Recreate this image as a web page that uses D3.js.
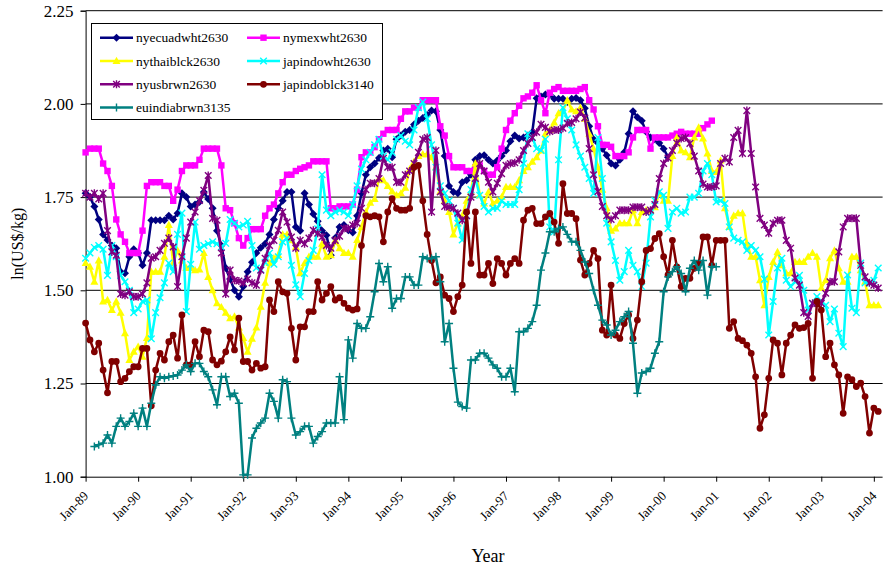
<!DOCTYPE html>
<html>
<head>
<meta charset="utf-8">
<script src="https://cdn.jsdelivr.net/npm/d3@7"></script>
<style>
body { margin: 0; background: #fff; }
text { font-family: "Liberation Serif", "DejaVu Serif", serif; fill: #000; }
</style>
</head>
<body>
<svg width="883" height="571"></svg>
<script>
// Tick labels and y ticks
var yearLabels = ['Jan-89','Jan-90','Jan-91','Jan-92','Jan-93','Jan-94','Jan-95','Jan-96',
                  'Jan-97','Jan-98','Jan-99','Jan-00','Jan-01','Jan-02','Jan-03','Jan-04'];
var yTicks = [1.00, 1.25, 1.50, 1.75, 2.00, 2.25];

// Monthly values from Jan-89, one row per year
var nyecuadwht2630 = [
  1.76,1.75,1.725,1.69,1.65,1.635,1.62,1.613,1.55,1.546,1.59,1.61,
  1.60,1.567,1.60,1.688,1.688,1.688,1.688,1.70,1.69,1.707,1.76,1.75,
  1.725,1.73,1.737,1.764,1.745,1.72,1.66,1.62,1.56,1.53,1.50,1.483,
  1.51,1.55,1.575,1.60,1.614,1.625,1.65,1.69,1.72,1.74,1.764,1.764,
  1.67,1.66,1.76,1.73,1.705,1.685,1.66,1.648,1.594,1.64,1.67,1.675,
  1.661,1.655,1.70,1.76,1.81,1.83,1.84,1.855,1.875,1.88,1.857,1.905,
  1.915,1.925,1.93,1.945,1.955,1.962,1.97,1.982,1.98,1.93,1.86,1.78,
  1.764,1.76,1.79,1.795,1.81,1.85,1.86,1.862,1.85,1.84,1.848,1.86,
  1.875,1.90,1.915,1.907,1.91,1.915,1.924,2.015,2.02,2.025,2.025,2.014,
  2.014,2.014,2.005,2.014,2.016,2.01,1.988,1.94,1.905,1.895,1.88,1.862,
  1.84,1.835,1.85,1.87,1.92,1.98,1.964,1.955,1.925,1.91,1.905,1.895,
  1.88,1.857
];
var nymexwht2630 = [
  1.87,1.88,1.88,1.88,1.84,1.82,1.78,1.69,1.65,1.63,1.60,1.60,
  1.60,1.66,1.78,1.79,1.79,1.79,1.78,1.78,1.74,1.77,1.82,1.835,
  1.835,1.835,1.85,1.88,1.88,1.88,1.88,1.835,1.72,1.715,1.68,1.64,
  1.62,1.64,1.664,1.664,1.664,1.70,1.72,1.73,1.76,1.79,1.81,1.81,
  1.82,1.826,1.83,1.835,1.846,1.846,1.846,1.846,1.72,1.72,1.725,1.725,
  1.725,1.73,1.77,1.857,1.87,1.87,1.884,1.905,1.92,1.93,1.93,1.93,
  1.96,1.98,1.98,1.99,1.99,2.01,2.01,2.01,2.01,1.94,1.915,1.86,
  1.83,1.83,1.83,1.82,1.82,1.83,1.835,1.82,1.81,1.81,1.83,1.88,
  1.93,1.955,1.975,1.995,2.015,2.02,2.03,2.05,2.01,1.975,2.03,2.04,
  2.045,2.035,2.035,2.035,2.035,2.04,2.045,2.01,1.985,1.94,1.89,1.89,
  1.885,1.86,1.86,1.86,1.87,1.91,1.93,1.93,1.93,1.88,1.91,1.91,
  1.91,1.91,1.915,1.92,1.925,1.92,1.92,1.92,1.92,1.935,1.945,1.955
];
var nythaiblck2630 = [
  1.573,1.563,1.523,1.58,1.47,1.474,1.447,1.47,1.44,1.385,1.313,1.335,
  1.349,1.322,1.372,1.55,1.55,1.55,1.59,1.675,1.573,1.607,1.58,1.56,
  1.56,1.554,1.556,1.60,1.536,1.50,1.465,1.455,1.44,1.425,1.43,1.40,
  1.372,1.335,1.37,1.40,1.456,1.52,1.573,1.586,1.595,1.65,1.65,1.634,
  1.616,1.546,1.573,1.59,1.59,1.59,1.625,1.59,1.594,1.634,1.613,1.60,
  1.60,1.59,1.635,1.67,1.71,1.735,1.745,1.80,1.795,1.78,1.765,1.755,
  1.76,1.775,1.825,1.845,1.86,1.865,1.865,1.857,1.83,1.765,1.74,1.71,
  1.65,1.68,1.70,1.74,1.764,1.84,1.755,1.733,1.764,1.733,1.74,1.75,
  1.777,1.777,1.777,1.795,1.82,1.83,1.845,1.857,1.875,1.92,1.93,1.95,
  1.975,1.98,2.01,1.985,1.98,1.99,1.96,1.92,1.88,1.83,1.77,1.72,
  1.66,1.666,1.68,1.68,1.68,1.715,1.68,1.71,1.715,1.715,1.723,1.76,
  1.74,1.74,1.86,1.91,1.875,1.87,1.857,1.91,1.937,1.907,1.867,1.82,
  1.817,1.848,1.72,1.67,1.70,1.707,1.707,1.626,1.59,1.59,1.527,1.46,
  1.536,1.576,1.603,1.567,1.546,1.546,1.576,1.576,1.576,1.59,1.60,1.59,
  1.506,1.527,1.586,1.607,1.559,1.523,1.523,1.59,1.59,1.554,1.523,1.46,
  1.46,1.46
];
var japindowht2630 = [
  1.586,1.60,1.615,1.62,1.61,1.54,1.62,1.59,1.54,1.523,1.50,1.44,
  1.45,1.47,1.474,1.37,1.44,1.48,1.52,1.573,1.55,1.65,1.707,1.443,
  1.57,1.683,1.61,1.62,1.625,1.63,1.625,1.616,1.626,1.69,1.68,1.67,
  1.675,1.685,1.62,1.56,1.555,1.575,1.60,1.57,1.59,1.63,1.64,1.567,
  1.515,1.483,1.545,1.58,1.607,1.665,1.81,1.715,1.70,1.71,1.715,1.71,
  1.70,1.73,1.78,1.825,1.85,1.87,1.89,1.905,1.86,1.85,1.87,1.905,
  1.915,1.90,1.89,1.93,1.99,2.005,1.96,1.89,1.83,1.78,1.76,1.74,
  1.72,1.68,1.635,1.70,1.77,1.80,1.755,1.725,1.71,1.72,1.72,1.74,
  1.73,1.73,1.73,1.77,1.84,1.92,1.91,1.88,1.875,1.905,1.67,1.657,
  1.85,1.99,1.96,1.93,1.89,1.86,1.83,1.80,1.76,1.91,1.80,1.68,
  1.63,1.58,1.527,1.55,1.607,1.567,1.55,1.51,1.573,1.697,1.741,1.764,
  1.755,1.666,1.71,1.72,1.707,1.71,1.75,1.75,1.76,1.82,1.84,1.81,
  1.737,1.74,1.733,1.67,1.64,1.634,1.63,1.607,1.62,1.607,1.59,1.53,
  1.38,1.47,1.56,1.586,1.527,1.51,1.523,1.54,1.50,1.447,1.465,1.483,
  1.47,1.46,1.416,1.45,1.385,1.349,1.541,1.452,1.44,1.573,1.52,1.52,
  1.527,1.56
];
var nyusbrwn2630 = [
  1.76,1.75,1.76,1.745,1.76,1.66,1.603,1.594,1.49,1.487,1.496,1.483,
  1.483,1.49,1.52,1.586,1.59,1.607,1.626,1.64,1.616,1.51,1.59,1.64,
  1.683,1.71,1.741,1.768,1.808,1.693,1.688,1.60,1.49,1.554,1.527,1.525,
  1.52,1.53,1.52,1.514,1.554,1.586,1.62,1.634,1.661,1.71,1.683,1.643,
  1.613,1.634,1.625,1.64,1.661,1.653,1.643,1.62,1.613,1.634,1.645,1.666,
  1.666,1.675,1.68,1.72,1.77,1.787,1.787,1.80,1.854,1.83,1.83,1.79,
  1.79,1.81,1.82,1.84,1.87,1.905,1.91,1.71,1.875,1.764,1.725,1.723,
  1.72,1.707,1.688,1.70,1.75,1.80,1.84,1.82,1.79,1.764,1.787,1.813,
  1.835,1.84,1.842,1.85,1.875,1.894,1.91,1.924,1.945,1.937,1.926,1.93,
  1.93,1.935,1.948,1.95,1.96,1.978,1.962,1.88,1.81,1.765,1.725,1.70,
  1.69,1.70,1.715,1.715,1.715,1.723,1.723,1.723,1.71,1.715,1.73,1.80,
  1.84,1.855,1.875,1.895,1.907,1.91,1.894,1.86,1.82,1.785,1.777,1.777,
  1.78,1.84,1.854,1.844,1.91,1.929,1.867,1.982,1.867,1.777,1.693,1.675,
  1.653,1.68,1.688,1.688,1.634,1.613,1.533,1.514,1.44,1.43,1.465,1.465,
  1.465,1.492,1.523,1.523,1.603,1.67,1.693,1.693,1.693,1.567,1.536,1.52,
  1.514,1.506
];
var japindoblck3140 = [
  1.412,1.367,1.335,1.358,1.286,1.225,1.309,1.309,1.255,1.264,1.282,1.295,
  1.295,1.344,1.344,1.19,1.286,1.331,1.313,1.362,1.38,1.318,1.434,1.30,
  1.30,1.362,1.322,1.393,1.389,1.313,1.30,1.31,1.335,1.375,1.34,1.425,
  1.309,1.309,1.286,1.304,1.291,1.295,1.474,1.443,1.523,1.496,1.492,1.398,
  1.313,1.402,1.402,1.443,1.443,1.523,1.474,1.492,1.51,1.474,1.48,1.465,
  1.452,1.447,1.45,1.62,1.70,1.697,1.70,1.697,1.63,1.71,1.746,1.72,
  1.715,1.715,1.72,1.83,1.835,1.74,1.65,1.58,1.52,1.536,1.487,1.478,
  1.443,1.483,1.514,1.71,1.572,1.71,1.541,1.541,1.572,1.518,1.585,1.572,
  1.541,1.572,1.585,1.572,1.688,1.715,1.72,1.679,1.679,1.697,1.706,1.683,
  1.626,1.786,1.706,1.706,1.692,1.581,1.541,1.572,1.607,1.585,1.393,1.38,
  1.514,1.38,1.371,1.411,1.434,1.371,1.42,1.523,1.607,1.612,1.639,1.652,
  1.59,1.541,1.634,1.563,1.51,1.532,1.532,1.559,1.572,1.643,1.643,1.567,
  1.634,1.634,1.634,1.398,1.416,1.371,1.365,1.353,1.331,1.268,1.13,1.166,
  1.264,1.367,1.358,1.273,1.358,1.38,1.407,1.398,1.40,1.411,1.264,1.47,
  1.447,1.322,1.358,1.30,1.273,1.17,1.268,1.26,1.242,1.251,1.215,1.117,
  1.184,1.175
];
var euindiabrwn3135 = [
  null,null,1.081,1.086,1.09,1.112,1.09,1.135,1.157,1.135,1.148,1.17,
  1.135,1.184,1.135,1.197,1.246,1.268,1.264,1.268,1.27,1.273,1.286,1.30,
  1.282,1.304,1.304,1.282,1.268,1.233,1.193,1.268,1.268,1.215,1.224,1.197,
  1.005,1.005,1.104,1.13,1.144,1.157,1.224,1.202,1.157,1.26,1.255,1.157,
  1.112,1.121,1.135,1.135,1.09,1.108,1.121,1.144,1.144,1.144,1.268,1.153,
  1.367,1.318,1.411,1.398,1.398,1.429,1.496,1.572,1.523,1.563,1.452,1.478,
  1.478,1.536,1.536,1.514,1.514,1.59,1.585,1.585,1.59,1.523,1.362,1.411,
  1.291,1.20,1.188,1.184,1.313,1.313,1.331,1.331,1.318,1.30,1.291,1.268,
  1.268,1.291,1.228,1.389,1.389,1.398,1.416,1.46,1.554,1.60,1.657,1.657,
  1.666,1.67,1.65,1.63,1.63,1.607,1.576,1.545,1.50,1.46,1.42,1.407,
  1.38,1.393,1.416,1.429,1.443,1.358,1.224,1.278,1.282,1.291,1.331,1.362,
  1.496,1.536,1.55,1.563,1.545,1.496,1.559,1.58,1.554,1.58,1.487,1.563,
  1.563
];

var series = [
  {name: 'nyecuadwht2630', values: nyecuadwht2630, color: '#000080', marker: 'diamond'},
  {name: 'nymexwht2630',   values: nymexwht2630,   color: '#ff00ff', marker: 'square'},
  {name: 'nythaiblck2630', values: nythaiblck2630, color: '#ffff00', marker: 'triangle'},
  {name: 'japindowht2630', values: japindowht2630, color: '#00ffff', marker: 'times'},
  {name: 'nyusbrwn2630',   values: nyusbrwn2630,   color: '#800080', marker: 'asterisk'},
  {name: 'japindoblck3140', values: japindoblck3140, color: '#800000', marker: 'circle'},
  {name: 'euindiabrwn3135', values: euindiabrwn3135, color: '#008080', marker: 'plus'}
];

var svg = d3.select('svg');
var plot = {l: 85.6, r: 882.6, t: 10.7, b: 476.7};

var x = d3.scaleLinear().domain([0, 182]).range([plot.l, plot.r]);
var y = d3.scaleLinear().domain([1, 2.25]).range([plot.b, plot.t]);

// gridlines
svg.append('g').selectAll('line')
    .data(yTicks.slice(1))
    .enter().append('line')
    .attr('x1', plot.l).attr('x2', plot.r)
    .attr('y1', function(d){ return y(d); })
    .attr('y2', function(d){ return y(d); })
    .attr('stroke', '#000').attr('stroke-width', 1);

// y axis
var yAxis = svg.append('g')
    .attr('transform', 'translate(' + plot.l + ',0)')
    .call(d3.axisLeft(y).tickValues(yTicks).tickSize(5).tickPadding(7)
        .tickFormat(d3.format('.2f')));
yAxis.selectAll('text').style('font-size', '17px')
    .style('font-family', '"Liberation Serif", serif');
yAxis.selectAll('line, path').attr('stroke', '#000');

// x axis
var monthTicks = d3.range(0, 181, 12);
var xAxis = svg.append('g')
    .attr('transform', 'translate(0,' + plot.b + ')')
    .call(d3.axisBottom(x).tickValues(monthTicks).tickSize(5)
        .tickFormat(function(d, i){ return yearLabels[i]; }));
xAxis.select('.domain').attr('d', 'M' + plot.l + ',0.5H' + plot.r).attr('stroke', '#000');
xAxis.selectAll('line').attr('stroke', '#000');
xAxis.selectAll('text')
    .style('font-size', '13px')
    .style('font-family', '"Liberation Serif", serif')
    .attr('text-anchor', 'end')
    .attr('y', 0).attr('dy', 0)
    .attr('transform', 'translate(3,20) rotate(-45)');

// marker shapes
function markerPath(type) {
    switch (type) {
        case 'diamond': return 'M0,-4L4,0L0,4L-4,0Z';
        case 'square': return 'M-3.2,-3.2H3.2V3.2H-3.2Z';
        case 'triangle': return 'M0,-4.2L4,3L-4,3Z';
        case 'times': return 'M-3.3,-3.3L3.3,3.3M-3.3,3.3L3.3,-3.3';
        case 'asterisk': return 'M-3.3,-3.3L3.3,3.3M-3.3,3.3L3.3,-3.3M0,-4L0,4';
        case 'plus': return 'M-4,0H4M0,-4V4';
        case 'circle': return 'M3.4,0A3.4,3.4 0 1,1 -3.4,0A3.4,3.4 0 1,1 3.4,0Z';
    }
}
function isStroke(type) { return type == 'times' || type == 'asterisk' || type == 'plus'; }

var line = d3.line()
    .defined(function(d){ return d.v != null; })
    .x(function(d){ return x(d.i); })
    .y(function(d){ return y(d.v); });

series.forEach(function(s) {
    var pts = s.values.map(function(v, i){ return {i: i, v: v}; });
    var g = svg.append('g').attr('class', 'series');
    g.append('path')
        .attr('d', line(pts))
        .attr('fill', 'none')
        .attr('stroke', s.color)
        .attr('stroke-width', 2.5)
        .attr('stroke-linejoin', 'round');
    g.selectAll('path.mk')
        .data(pts.filter(function(d){ return d.v != null; }))
        .enter().append('path')
        .attr('class', 'mk')
        .attr('transform', function(d){ return 'translate(' + x(d.i) + ',' + y(d.v) + ')'; })
        .attr('d', markerPath(s.marker))
        .attr('fill', isStroke(s.marker) ? 'none' : s.color)
        .attr('stroke', isStroke(s.marker) ? s.color : 'none')
        .attr('stroke-width', 1.4);
});

// legend
var legend = svg.append('g');
legend.append('rect')
    .attr('x', 91.5).attr('y', 23.5).attr('width', 291).attr('height', 96)
    .attr('fill', '#fff').attr('stroke', '#000').attr('stroke-width', 1);
var legItems = legend.selectAll('g.item')
    .data(series)
    .enter().append('g')
    .attr('class', 'item')
    .attr('transform', function(d, i){
        return 'translate(' + (i % 2 == 0 ? 100 : 247) + ',' + (37.7 + Math.floor(i / 2) * 23.3) + ')';
    });
legItems.append('line')
    .attr('x1', 0).attr('x2', 33)
    .attr('stroke', function(d){ return d.color; })
    .attr('stroke-width', 2.5);
legItems.append('path')
    .attr('transform', 'translate(16.5,0)')
    .attr('d', function(d){ return markerPath(d.marker); })
    .attr('fill', function(d){ return isStroke(d.marker) ? 'none' : d.color; })
    .attr('stroke', function(d){ return isStroke(d.marker) ? d.color : 'none'; })
    .attr('stroke-width', 1.4);
legItems.append('text')
    .attr('x', 36).attr('dy', '0.35em')
    .style('font-size', '13.5px')
    .text(function(d){ return d.name; });

// axis titles
svg.append('text')
    .attr('x', 488).attr('y', 562)
    .attr('text-anchor', 'middle')
    .style('font-size', '18px')
    .text('Year');
svg.append('text')
    .attr('transform', 'translate(23,' + ((plot.t + plot.b) / 2) + ') rotate(-90)')
    .attr('text-anchor', 'middle')
    .style('font-size', '16px')
    .text('ln(US$/kg)');
</script>
</body>
</html>
